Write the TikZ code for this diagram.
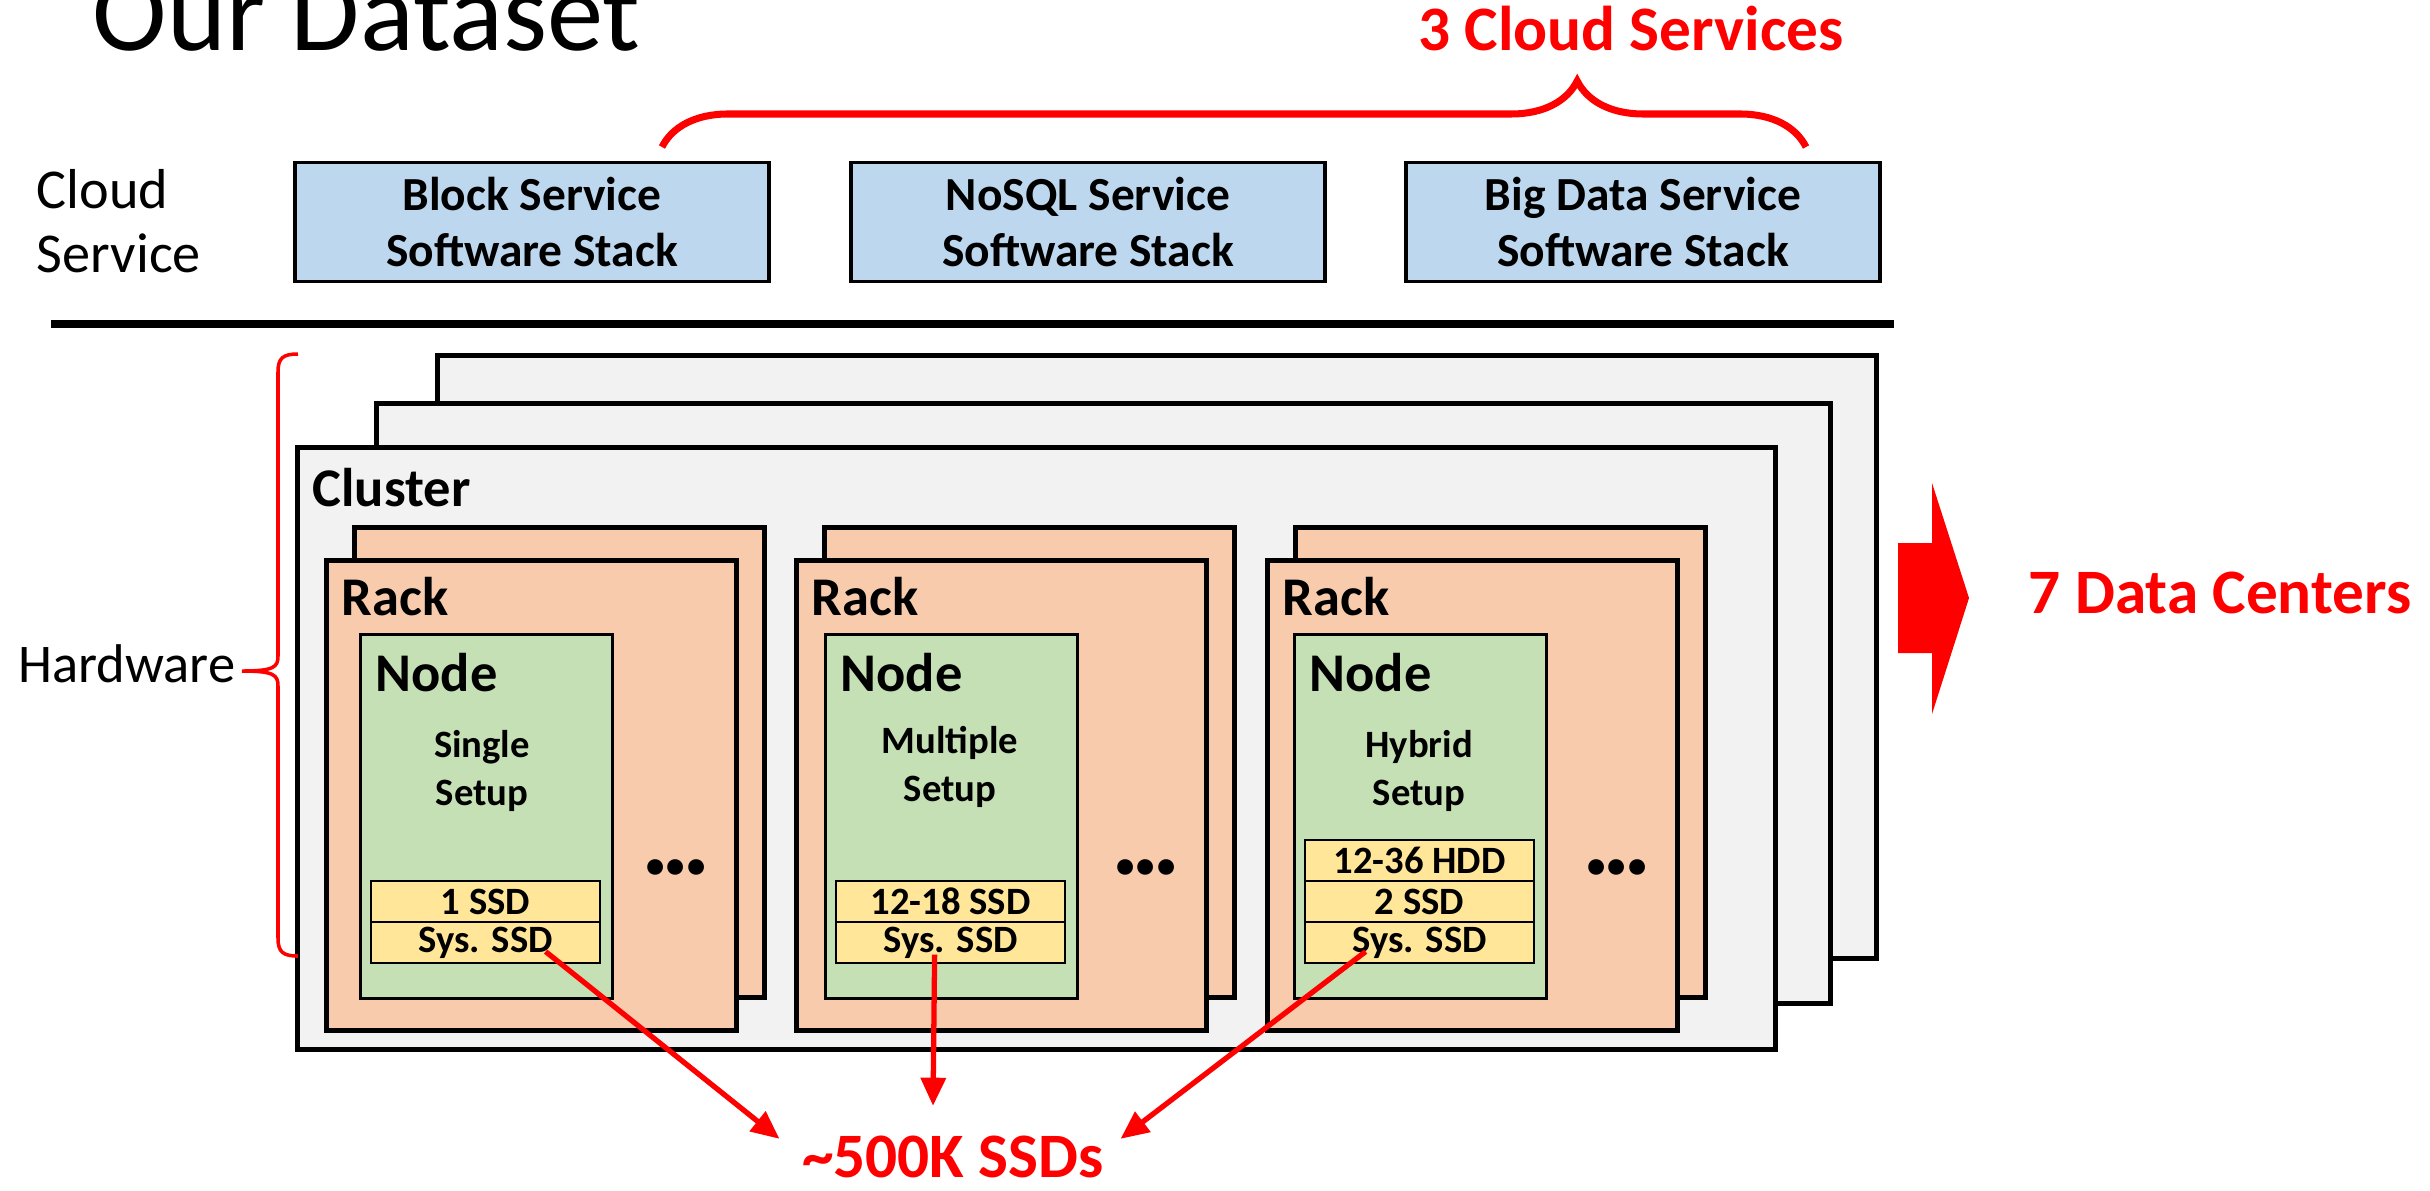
\documentclass[tikz,border=0pt]{standalone}
\usepackage{fontspec}
\setmainfont{Carlito}
\usetikzlibrary{arrows.meta,decorations.pathreplacing}
\definecolor{stackblue}{HTML}{BDD7EE}
\definecolor{clustergray}{HTML}{F2F2F2}
\definecolor{rackpeach}{HTML}{F8CBAD}
\definecolor{nodegreen}{HTML}{C5E0B4}
\definecolor{diskyellow}{HTML}{FFE699}

\begin{document}
\begin{tikzpicture}[x=0.01cm,y=-0.01cm]
                \clip (0,0) rectangle (2430,1190);
                \node[anchor=base west, inner sep=0pt, font=\fontsize{32}{38}\selectfont] (T) at (92,50) {Our Dataset};
                \node[anchor=base west, inner sep=0pt, align=left, font=\fontsize{16}{18}\selectfont] (CS) at (36,272) {Cloud\\Service};
                \node[anchor=base east, inner sep=0pt, font=\fontsize{15.5}{18}\selectfont] (HW) at (236,682) {Hardware};
                \begin{scope}[every node/.style={rectangle, draw=black, line width=1pt, fill=stackblue, minimum width=4.74cm, minimum height=1.19cm, align=center, font=\bfseries\fontsize{13.5}{16.2}\selectfont}]
                    \node (S1) at (532,222) {Block Service\\Software Stack};
                    \node (S2) at (1088,222) {NoSQL Service\\Software Stack};
                    \node (S3) at (1643,222) {Big Data Service\\Software Stack};
                \end{scope}
                \draw[line width=2.3pt] (51,324) -- (1894,324);
                \begin{scope}[every node/.style={rectangle, draw=black, line width=1.4pt, fill=clustergray, anchor=north west, inner sep=0pt}]
                    \node[minimum width=14.38cm, minimum height=6.03cm] (C3) at (435,353) {};
                    \node[minimum width=14.53cm, minimum height=6.00cm] (C2) at (374,401) {};
                    \node[minimum width=14.77cm, minimum height=6.02cm] (C1) at (295,445) {};
                \end{scope}
                \begin{scope}[every node/.style={rectangle, draw=black, line width=1.4pt, fill=rackpeach, anchor=north west, inner sep=0pt, minimum width=4.10cm, minimum height=4.70cm}]
                    \node (R1b) at (352,525) {};
                    \node (R1) at (324,558) {};
                    \node (R2b) at (822,525) {};
                    \node (R2) at (794,558) {};
                    \node (R3b) at (1293,525) {};
                    \node (R3) at (1265,558) {};
                \end{scope}
                \begin{scope}[every node/.style={rectangle, draw=black, line width=0.8pt, fill=nodegreen, anchor=north west, inner sep=0pt, minimum width=2.52cm, minimum height=3.64cm}]
                    \node (N1) at (359,633) {};
                    \node (N2) at (824,633) {};
                    \node (N3) at (1293,633) {};
                \end{scope}
                \begin{scope}[every node/.style={rectangle, draw=black, line width=0.6pt, fill=diskyellow, anchor=north west, inner sep=0pt, minimum width=2.29cm, minimum height=0.41cm, font=\bfseries\fontsize{11}{13}\selectfont}]
                    \node (D1a) at (370,880) {1 SSD};
                    \node (D1b) at (370,921) {Sys. SSD};
                    \node (D2a) at (835,880) {12-18 SSD};
                    \node (D2b) at (835,921) {Sys. SSD};
                    \node (D3h) at (1304,839) {12-36 HDD};
                    \node (D3a) at (1304,880) {2 SSD};
                    \node (D3b) at (1304,921) {Sys. SSD};
                \end{scope}
                \begin{scope}[every node/.style={anchor=base west, inner sep=0pt, font=\bfseries\fontsize{15.5}{18}\selectfont}]
                    \node (L0) at (312,506) {Cluster};
                    \node (L1) at (341,615) {Rack};
                    \node (L2) at (811,615) {Rack};
                    \node (L3) at (1282,615) {Rack};
                    \node (M1) at (375,691) {Node};
                    \node (M2) at (840,691) {Node};
                    \node (M3) at (1309,691) {Node};
                \end{scope}
                \begin{scope}[every node/.style={anchor=base, align=center, inner sep=0pt, font=\bfseries\fontsize{11}{13.4}\selectfont}]
                    \node (U1) at (482,805) {Single\\Setup};
                    \node (U2) at (950,801) {Multiple\\Setup};
                    \node (U3) at (1419,805) {Hybrid\\Setup};
                \end{scope}
                \begin{scope}[every node/.style={inner sep=0pt, font=\bfseries\fontsize{30}{30}\selectfont}]
                    \node (E1) at (676,867) {.\kern-2.3pt.\kern-2.3pt.};
                    \node (E2) at (1146,867) {.\kern-2.3pt.\kern-2.3pt.};
                    \node (E3) at (1617,867) {.\kern-2.3pt.\kern-2.3pt.};
                \end{scope}
                \begin{scope}[every node/.style={text=red, inner sep=0pt, font=\bfseries\fontsize{18}{22}\selectfont}]
                    \node[anchor=base] (K) at (1631,50) {3 Cloud Services};
                    \node[anchor=base west] (DC) at (2028,613) {7 Data Centers};
                    \node[anchor=base] (Z) at (953,1177) {\textasciitilde500K SSDs};
                \end{scope}
                \draw[red, line width=2pt, decorate, decoration={brace, amplitude=0.66cm, aspect=0.8}] (662,147) -- (1806,147);
                \draw[red, line width=1pt] (298,354) .. controls (283,354) and (278,358) .. (278,372) -- (278,656) .. controls (278,667) and (274,671) .. (242,671) .. controls (274,671) and (278,675) .. (278,686) -- (278,938) .. controls (278,952) and (283,956) .. (298,956);
                \fill[red] (1898,543) -- (1932,543) -- (1932,483) -- (1969,598) -- (1932,714) -- (1932,653) -- (1898,653) -- cycle;
                \begin{scope}[every edge/.style={draw=red, line width=1.5pt}]
                    \draw ([shift={(60,9)}]D1b.center) edge [-{Triangle[length=8pt,width=7pt]}] ([shift={(-22,4)}]Z.north west);
                    \draw ([shift={(-16,12)}]D2b.center) edge [-{Triangle[length=8pt,width=7pt]}] ([shift={(-20,-29)}]Z.north);
                    \draw ([shift={(-54,9)}]D3b.center) edge [-{Triangle[length=8pt,width=7pt]}] ([shift={(16,4)}]Z.north east);
                \end{scope}
            \end{tikzpicture}
\end{document}
